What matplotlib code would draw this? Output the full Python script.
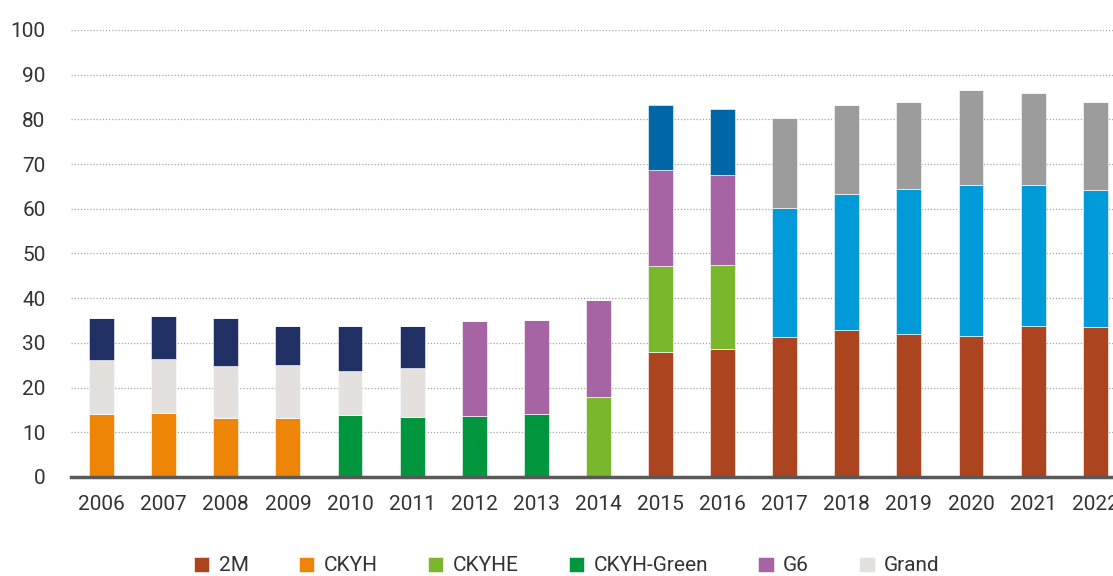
import numpy as np
import matplotlib.pyplot as plt
from matplotlib import font_manager

# pick a narrow sans if one is installed
names = {f.name for f in font_manager.fontManager.ttflist}
family = [n for n in ["Liberation Sans Narrow", "Roboto", "DejaVu Sans"] if n in names]
plt.rcParams['font.family'] = family

years = [str(y) for y in range(2006, 2023)]

# share of capacity per alliance, stacked bottom to top in this order
two_m      = [0, 0, 0, 0, 0, 0, 0, 0, 0, 27.9, 28.7, 31.3, 32.8, 32.0, 31.6, 33.7, 33.5]
ckyh       = [14.05, 14.35, 13.1, 13.1, 0, 0, 0, 0, 0, 0, 0, 0, 0, 0, 0, 0, 0]
ckyh_green = [0, 0, 0, 0, 13.8, 13.4, 13.6, 14.0, 0, 0, 0, 0, 0, 0, 0, 0, 0]
ckyhe      = [0, 0, 0, 0, 0, 0, 0, 0, 17.8, 19.2, 18.8, 0, 0, 0, 0, 0, 0]
ocean      = [0, 0, 0, 0, 0, 0, 0, 0, 0, 0, 0, 28.9, 30.5, 32.4, 33.8, 31.7, 30.7]
grand      = [12.15, 11.95, 11.8, 12.0, 10.0, 11.0, 0, 0, 0, 0, 0, 0, 0, 0, 0, 0, 0]
g6         = [0, 0, 0, 0, 0, 0, 21.2, 21.0, 21.8, 21.5, 20.1, 0, 0, 0, 0, 0, 0]
new_world  = [9.3, 9.8, 10.6, 8.6, 9.9, 9.4, 0, 0, 0, 0, 0, 0, 0, 0, 0, 0, 0]
the        = [0, 0, 0, 0, 0, 0, 0, 0, 0, 0, 0, 20.0, 19.9, 19.4, 21.1, 20.6, 19.7]
o3         = [0, 0, 0, 0, 0, 0, 0, 0, 0, 14.7, 14.7, 0, 0, 0, 0, 0, 0]

series = [
    ("2M", two_m, "#AD4420"),
    ("CKYH", ckyh, "#EE8506"),
    ("CKYH-Green", ckyh_green, "#00963D"),
    ("CKYHE", ckyhe, "#7AB72C"),
    ("Ocean", ocean, "#009AD8"),
    ("Grand", grand, "#E3E0DD"),
    ("G6", g6, "#A764A4"),
    ("New World", new_world, "#203064"),
    ("THE", the, "#9C9C9C"),
    ("O3", o3, "#0066A5"),
]

fig = plt.figure(figsize=(11.13, 5.76), dpi=100)
ax = fig.add_axes([0.0634, 0.172, 0.9485, 0.776])

x = np.arange(len(years))
bottom = np.zeros(len(years))
handles = {}
for name, vals, color in series:
    vals = np.array(vals, dtype=float)
    bars = ax.bar(x, vals, width=0.4, bottom=bottom, color=color,
                  edgecolor="white", linewidth=0.4, zorder=3)
    handles[name] = bars
    bottom += vals

ax.set_xlim(-0.5, len(years) - 0.5)
ax.set_ylim(0, 100)
ax.set_yticks(range(0, 101, 10))
ax.set_xticks(x)
ax.set_xticklabels(years)
ax.tick_params(axis='both', length=0, labelsize=15, colors="#333333")
ax.tick_params(axis='x', pad=13)
ax.tick_params(axis='y', pad=18)

ax.grid(axis='y', color="#A6A6A6", linestyle=(0, (1, 1.5)), linewidth=0.9, zorder=0)
for s in ["top", "right", "left"]:
    ax.spines[s].set_visible(False)
ax.spines["bottom"].set_color("#595959")
ax.spines["bottom"].set_linewidth(2.5)
ax.spines["bottom"].set_zorder(4)

shown = ["2M", "CKYH", "CKYHE", "CKYH-Green", "G6", "Grand"]
fig.legend([handles[n] for n in shown], shown, ncol=6,
           loc="upper left", bbox_to_anchor=(0.174, 0.034),
           frameon=False, fontsize=15, handlelength=0.75, handleheight=0.75,
           handletextpad=0.45, columnspacing=2.4, borderpad=0, borderaxespad=0,
           labelcolor="#333333")

fig.savefig("out.png", dpi=100)
